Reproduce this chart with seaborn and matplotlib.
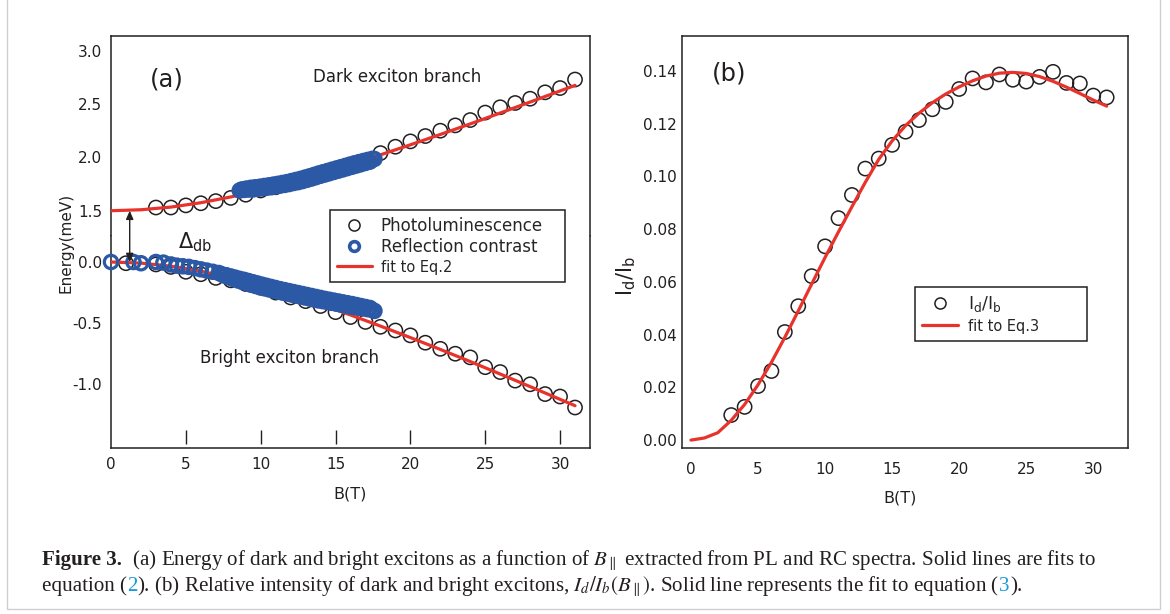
import numpy as np
import matplotlib
matplotlib.use('Agg')
import matplotlib.pyplot as plt
from matplotlib.patches import ConnectionPatch, Rectangle
from matplotlib.lines import Line2D
from matplotlib.offsetbox import TextArea, HPacker, AnchoredOffsetbox
from matplotlib.font_manager import FontProperties
import seaborn as sns

# ---------------- panel (a): energies vs field ----------------
pl_dark_B = list(range(3, 32))
pl_dark_E = [1.53, 1.53, 1.55, 1.57, 1.59, 1.62, 1.65, 1.69, 1.72, 1.77, 1.81, 1.85, 1.88,
             1.92, 1.96, 2.04, 2.10, 2.15, 2.20, 2.25, 2.30, 2.35, 2.42, 2.47, 2.51, 2.55,
             2.61, 2.65, 2.73]
pl_bright_B = [1] + list(range(3, 32))
pl_bright_E = [-0.01, -0.02, -0.04, -0.08, -0.10, -0.13, -0.15, -0.18, -0.21, -0.25, -0.29,
               -0.32, -0.36, -0.41, -0.45, -0.49, -0.53, -0.56, -0.60, -0.66, -0.71, -0.75,
               -0.78, -0.86, -0.90, -0.97, -1.00, -1.08, -1.10, -1.19]

# reflection contrast: dense sweep, 0.15 T apart
rc_dark_B = np.linspace(8.6, 17.6, 61)
rc_dark_E = [1.690, 1.700, 1.695, 1.708, 1.698, 1.715, 1.700, 1.720, 1.705, 1.725, 1.710,
             1.732, 1.715, 1.738, 1.720, 1.745, 1.728, 1.752, 1.735, 1.760, 1.742, 1.768,
             1.750, 1.778, 1.760, 1.788, 1.768, 1.798, 1.778, 1.810, 1.790, 1.822, 1.802,
             1.835, 1.815, 1.848, 1.828, 1.860, 1.840, 1.872, 1.852, 1.884, 1.864, 1.896,
             1.876, 1.908, 1.888, 1.920, 1.900, 1.932, 1.912, 1.944, 1.924, 1.955, 1.936,
             1.966, 1.948, 1.976, 1.960, 1.986, 1.985]
rc_bright_B = [0, 1.5, 2.0, 3.0, 3.5, 4.0, 4.4, 4.8, 5.2, 5.6, 6.0, 6.4, 6.8, 7.2] + \
    list(np.linspace(7.4, 17.6, 69))
rc_bright_E = [0.0, 0.0, -0.01, 0.0, -0.005, -0.02, -0.03, -0.035, -0.04, -0.05, -0.06,
               -0.07, -0.08, -0.09,
               -0.100, -0.110, -0.108, -0.124, -0.118, -0.138, -0.128, -0.150, -0.138,
               -0.162, -0.146, -0.174, -0.156, -0.186, -0.166, -0.196, -0.176, -0.206,
               -0.186, -0.215, -0.195, -0.224, -0.204, -0.233, -0.213, -0.242, -0.222,
               -0.250, -0.230, -0.258, -0.238, -0.266, -0.246, -0.274, -0.254, -0.282,
               -0.262, -0.290, -0.270, -0.298, -0.278, -0.306, -0.286, -0.314, -0.294,
               -0.320, -0.302, -0.327, -0.309, -0.334, -0.316, -0.341, -0.323, -0.348,
               -0.330, -0.355, -0.337, -0.362, -0.344, -0.368, -0.352, -0.374, -0.360,
               -0.380, -0.368, -0.386, -0.376, -0.392, -0.400]

fit_B = [0, 2, 4, 6, 8, 10, 12, 14, 16, 18, 20, 22, 24, 26, 28, 30, 31]
fit_dark_E = [1.500, 1.509, 1.534, 1.575, 1.629, 1.693, 1.767, 1.847, 1.933, 2.024, 2.118,
              2.215, 2.314, 2.416, 2.519, 2.623, 2.675]
fit_bright_E = [0.000, -0.009, -0.034, -0.075, -0.129, -0.193, -0.267, -0.347, -0.433,
                -0.524, -0.618, -0.715, -0.814, -0.916, -1.019, -1.123, -1.175]

# ---------------- panel (b): intensity ratio ----------------
ratio_B = list(range(3, 32))
ratio = [0.0095, 0.0126, 0.0205, 0.0262, 0.0410, 0.0508, 0.0622, 0.0735, 0.0842, 0.0930,
         0.1030, 0.1068, 0.1120, 0.1170, 0.1214, 0.1255, 0.1283, 0.1332, 0.1372, 0.1357,
         0.1387, 0.1367, 0.1360, 0.1378, 0.1397, 0.1355, 0.1353, 0.1307, 0.1300]
fit3_B = list(range(0, 32))
fit3 = [0.0, 0.0008, 0.0028, 0.0075, 0.0135, 0.0210, 0.0295, 0.0390, 0.0490, 0.0592,
        0.0693, 0.0790, 0.0885, 0.0978, 0.1065, 0.1135, 0.1193, 0.1240, 0.1280, 0.1313,
        0.1340, 0.1363, 0.1381, 0.1392, 0.1395, 0.1391, 0.1379, 0.1361, 0.1339, 0.1315,
        0.1290, 0.1267]

sns.set_style('white')
plt.rcParams['font.family'] = ['DejaVu Sans']
plt.rcParams['axes.unicode_minus'] = False
plt.rcParams['mathtext.fontset'] = 'dejavusans'

INK = '#231f20'
RED = '#e8322c'
BLUE = '#2b59a6'

W, H = 1170, 614
fig = plt.figure(figsize=(W / 100, H / 100), dpi=100)


def box(l, t, r, b):
    return [l / W, 1 - b / H, (r - l) / W, (b - t) / H]


ax_top = fig.add_axes(box(111, 36, 590, 236))
ax_bot = fig.add_axes(box(111, 236, 590, 448), sharex=ax_top)
ax_b = fig.add_axes(box(682, 36, 1128, 448))

# ---- draw (a) ----
for ax, pl_B, pl_E, f_E, rc_B, rc_E in [
        (ax_top, pl_dark_B, pl_dark_E, fit_dark_E, rc_dark_B, rc_dark_E),
        (ax_bot, pl_bright_B, pl_bright_E, fit_bright_E, rc_bright_B, rc_bright_E)]:
    sns.scatterplot(x=pl_B, y=pl_E, ax=ax, marker='o', s=105, facecolor='none',
                    edgecolor=INK, linewidth=1.1, zorder=2, clip_on=False)
    sns.lineplot(x=fit_B, y=f_E, ax=ax, color=RED, lw=2.3, estimator=None, zorder=3)
    sns.scatterplot(x=rc_B, y=rc_E, ax=ax, marker='o', s=92, facecolor='none',
                    edgecolor=BLUE, linewidth=2.3, zorder=4, clip_on=False)
    for sp in ax.spines.values():
        sp.set_color(INK)
        sp.set_linewidth(1.1)
    ax.tick_params(axis='y', direction='in', length=9, width=1, pad=6.5,
                   labelsize=11, colors=INK)

ax_top.spines['bottom'].set_visible(False)
ax_bot.spines['top'].set_visible(False)
ax_top.set_ylim(1.263, 3.138)
ax_bot.set_ylim(-1.521, 0.2126)
ax_top.set_yticks([1.5, 2.0, 2.5, 3.0])
ax_bot.set_yticks([-1.0, -0.5, 0.0])
ax_top.set_yticklabels(['1.5', '2.0', '2.5', '3.0'])
ax_bot.set_yticklabels(['-1.0', '-0.5', '0.0'])
ax_top.tick_params(axis='x', bottom=False, labelbottom=False)
ax_bot.set_xlim(0, 32)
ax_bot.set_xticks(range(0, 31, 5))
ax_bot.tick_params(axis='x', length=0, pad=6.5, labelsize=11, colors=INK)

# floating inward x ticks, a few pixels above the bottom spine
sec = ax_bot.secondary_xaxis(4 / 212)
sec.spines['bottom'].set_visible(False)
sec.set_xticks(range(5, 31, 5))
sec.tick_params(axis='x', direction='in', length=10, width=1, labelbottom=False,
                colors=INK)

ax_bot.set_xlabel('B(T)', fontsize=11.5, color=INK)
ax_bot.xaxis.set_label_coords(0.5, -0.18)
fig.text(66 / W, 1 - 243 / H, 'Energy(meV)', rotation=90, ha='center', va='center',
         fontsize=11, color=INK)

ax_top.text(3.7, 2.73, '(a)', fontsize=17.5, ha='center', va='center', color=INK)
ax_top.text(19.1, 2.756, 'Dark exciton branch', fontsize=12, ha='center', va='center',
            color=INK)
ax_bot.text(11.9, -0.787, 'Bright exciton branch', fontsize=12, ha='center',
            va='center', color=INK)
ax_bot.text(4.5, 0.16, r'$\Delta_{\mathregular{db}}$', fontsize=15, ha='left',
            va='center', color=INK)

arrow = ConnectionPatch(xyA=(1.25, 1.5), coordsA=ax_top.transData,
                        xyB=(1.25, 0.0), coordsB=ax_bot.transData,
                        arrowstyle='<|-|>,head_length=0.5,head_width=0.22',
                        mutation_scale=10, lw=1, color=INK, shrinkA=0, shrinkB=0)
fig.add_artist(arrow)

h_pl = Line2D([], [], ls='none', marker='o', mfc='none', mec=INK, mew=1.1, ms=8)
h_rc = Line2D([], [], ls='none', marker='o', mfc='none', mec=BLUE, mew=2.6, ms=7)
h_fit = Line2D([], [], color=RED, lw=2.3)
leg = ax_bot.legend([h_pl, h_rc, h_fit],
                    ['Photoluminescence', 'Reflection contrast', 'fit to Eq.2'],
                    loc='upper left', mode='expand',
                    bbox_to_anchor=(330 / W, 1 - 291 / H, 235 / W, 81 / H),
                    bbox_transform=fig.transFigure, fancybox=False, framealpha=1,
                    edgecolor=INK, fontsize=12, handlelength=2.1, handletextpad=0.55,
                    borderpad=0.4, labelspacing=0.22, borderaxespad=0)
leg.get_frame().set_linewidth(1.1)
leg.get_texts()[2].set_fontsize(10.5)

# ---- draw (b) ----
sns.scatterplot(x=ratio_B, y=ratio, ax=ax_b, marker='o', s=105, facecolor='none',
                edgecolor=INK, linewidth=1.1, zorder=2)
sns.lineplot(x=fit3_B, y=fit3, ax=ax_b, color=RED, lw=2.3, estimator=None, zorder=3)
for sp in ax_b.spines.values():
    sp.set_color(INK)
    sp.set_linewidth(1.1)
ax_b.set_xlim(-0.67, 32.59)
ax_b.set_ylim(-0.003, 0.1533)
ax_b.set_xticks(range(0, 31, 5))
ax_b.set_yticks(np.arange(0, 0.141, 0.02))
ax_b.set_yticklabels(['%.2f' % v for v in np.arange(0, 0.141, 0.02)])
ax_b.tick_params(axis='y', direction='in', length=8, width=1, pad=4, labelsize=11,
                 colors=INK)
ax_b.tick_params(axis='x', direction='in', length=8, width=1, pad=10, labelsize=11,
                 colors=INK)
ax_b.set_xlabel('B(T)', fontsize=11.5, color=INK)
ax_b.xaxis.set_label_coords(0.489, -0.104)
fig.text(626 / W, 1 - 276 / H, r'I$_\mathregular{d}$/I$_\mathregular{b}$', rotation=90,
         ha='center', va='center', fontsize=15, color=INK)
ax_b.text(2.83, 0.139, '(b)', fontsize=17.5, ha='center', va='center', color=INK)

hb_pt = Line2D([], [], ls='none', marker='o', mfc='none', mec=INK, mew=1.1, ms=8)
legb = ax_b.legend([hb_pt, h_fit],
                   [r'I$_\mathregular{d}$/I$_\mathregular{b}$', 'fit to Eq.3'],
                   loc='upper left', mode='expand',
                   bbox_to_anchor=(915 / W, 1 - 347 / H, 172 / W, 60 / H),
                   bbox_transform=fig.transFigure, fancybox=False, framealpha=1,
                   edgecolor=INK, fontsize=12.5, handlelength=2.1, handletextpad=0.55,
                   borderpad=0.4, labelspacing=0.3, borderaxespad=0)
legb.get_frame().set_linewidth(1.1)
legb.get_texts()[1].set_fontsize(10.5)

# ---- caption ----
cap_fp = FontProperties(family='Liberation Serif', size=15.1, math_fontfamily='stix')
cap_bold = FontProperties(family='Liberation Serif', size=15.1, weight='bold')
LINK = '#1b9ad6'


def caption_line(parts, x, y):
    areas = [TextArea(s, textprops=dict(fontproperties=fp, color=c)) for s, fp, c in parts]
    pack = HPacker(children=areas, align='baseline', pad=0, sep=0)
    fig.add_artist(AnchoredOffsetbox(loc='lower left', child=pack, pad=0, borderpad=0,
                                     frameon=False, bbox_to_anchor=(x, y),
                                     bbox_transform=fig.transFigure))


caption_line([('Figure 3.', cap_bold, INK),
              ('  (a) Energy of dark and bright excitons as a function of $B_{\\parallel}$'
               ' extracted from PL and RC spectra. Solid lines are fits to', cap_fp, INK)],
             42 / W, 1 - 573 / H)
caption_line([('equation (', cap_fp, INK), ('2', cap_fp, LINK),
              ('). (b) Relative intensity of dark and bright excitons, '
               '$I_d/I_b(B_{\\parallel})$. Solid line represents the fit to equation (',
               cap_fp, INK),
              ('3', cap_fp, LINK), (').', cap_fp, INK)],
             42 / W, 1 - 599 / H)

fig.add_artist(Rectangle((7 / W, 1 - 609 / H), 1153 / W, 700 / H, transform=fig.transFigure,
                         fill=False, ec='#cfcfcf', lw=1))

fig.savefig('out.png', dpi=100)
